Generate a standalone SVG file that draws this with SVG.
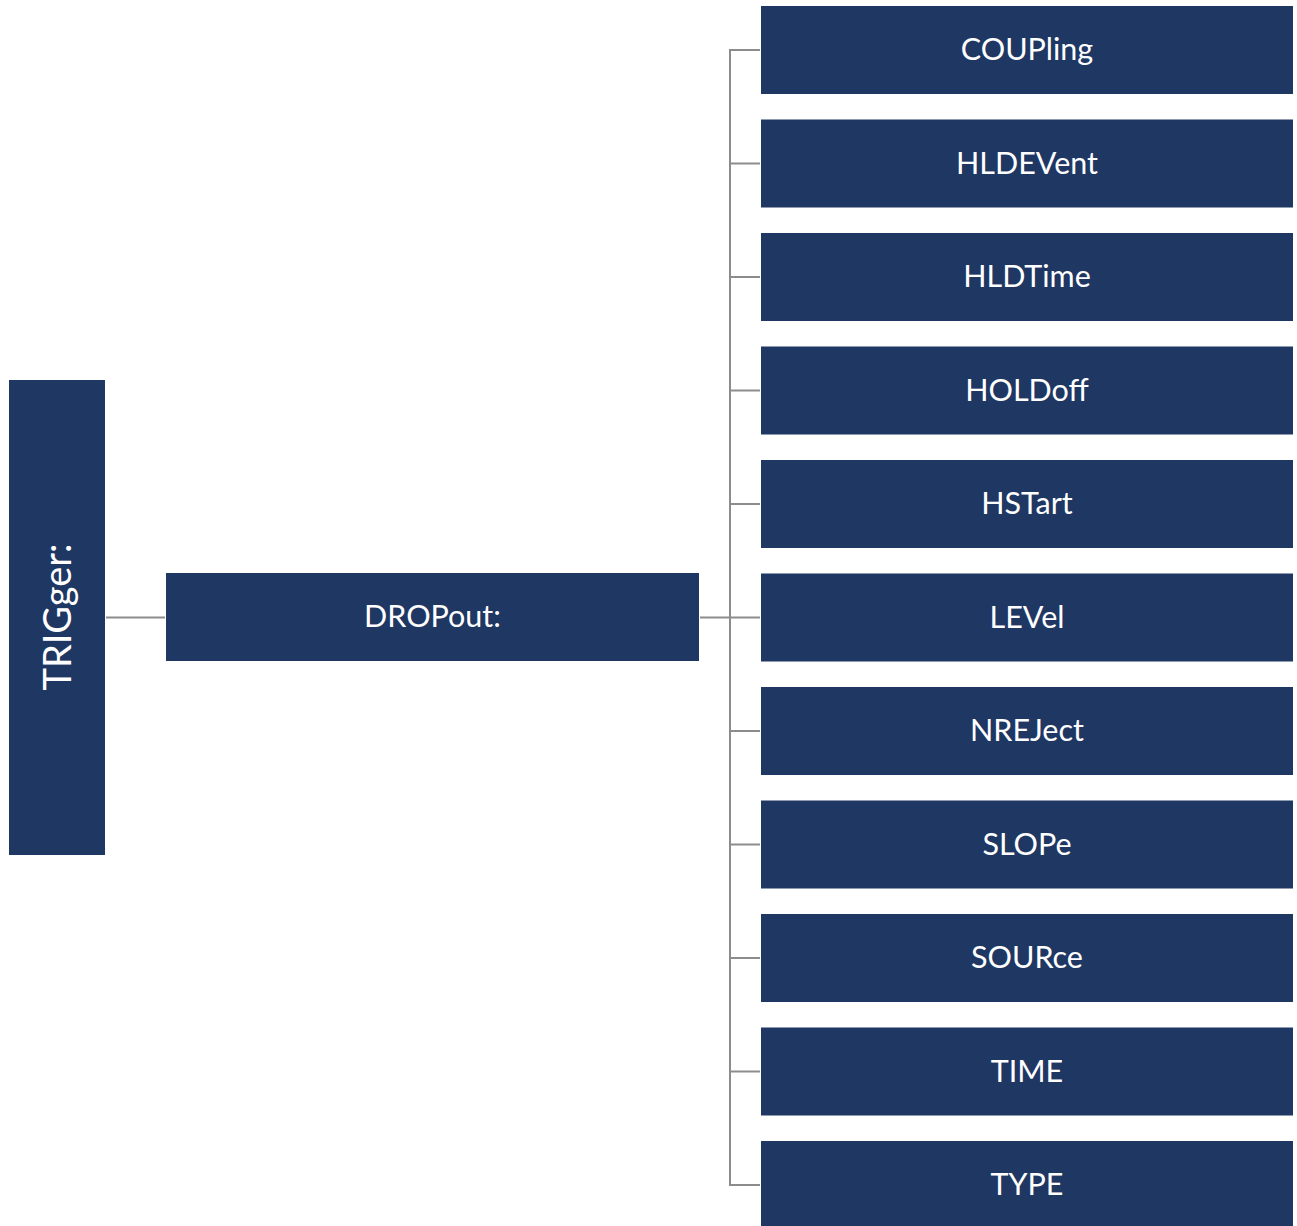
<svg xmlns="http://www.w3.org/2000/svg" width="1297" height="1226" viewBox="0 0 1297 1226">
<style>
.box{fill:#1f3763;}
.lbl{fill:#ffffff;font-family:Lato,"Open Sans","Liberation Sans",sans-serif;font-size:30.5px;text-anchor:middle;dominant-baseline:central;}
.big{font-size:38px;}
.conn{stroke:#8c8c8c;stroke-width:2;fill:none;}
</style>
<rect width="1297" height="1226" fill="#ffffff"/>
<g id="connectors">
<line class="conn" x1="106" y1="617.5" x2="165" y2="617.5"/>
<line class="conn" x1="700" y1="617.5" x2="760" y2="617.5"/>
<path class="conn" d="M760,50 H730 V1185 H760"/>
<line class="conn" x1="730" y1="163.5" x2="760" y2="163.5"/>
<line class="conn" x1="730" y1="277" x2="760" y2="277"/>
<line class="conn" x1="730" y1="390.5" x2="760" y2="390.5"/>
<line class="conn" x1="730" y1="504" x2="760" y2="504"/>
<line class="conn" x1="730" y1="731" x2="760" y2="731"/>
<line class="conn" x1="730" y1="844.5" x2="760" y2="844.5"/>
<line class="conn" x1="730" y1="958" x2="760" y2="958"/>
<line class="conn" x1="730" y1="1071.5" x2="760" y2="1071.5"/>
</g>
<g id="trigger"><rect class="box" x="9" y="380" width="96" height="475"/><text class="lbl big" transform="translate(56,617) rotate(-90)" x="0" y="0">TRIGger:</text></g>
<g id="dropout"><rect class="box" x="166" y="573" width="533" height="88"/><text class="lbl" x="432.5" y="615">DROPout:</text></g>
<g id="coupling"><rect class="box" x="761" y="6" width="532" height="88"/><text class="lbl" x="1027" y="48">COUPling</text></g>
<g id="hldevent"><rect class="box" x="761" y="119.5" width="532" height="88"/><text class="lbl" x="1027" y="161.5">HLDEVent</text></g>
<g id="hldtime"><rect class="box" x="761" y="233" width="532" height="88"/><text class="lbl" x="1027" y="275">HLDTime</text></g>
<g id="holdoff"><rect class="box" x="761" y="346.5" width="532" height="88"/><text class="lbl" x="1027" y="388.5">HOLDoff</text></g>
<g id="hstart"><rect class="box" x="761" y="460" width="532" height="88"/><text class="lbl" x="1027" y="502">HSTart</text></g>
<g id="level"><rect class="box" x="761" y="573.5" width="532" height="88"/><text class="lbl" x="1027" y="615.5">LEVel</text></g>
<g id="nreject"><rect class="box" x="761" y="687" width="532" height="88"/><text class="lbl" x="1027" y="729">NREJect</text></g>
<g id="slope"><rect class="box" x="761" y="800.5" width="532" height="88"/><text class="lbl" x="1027" y="842.5">SLOPe</text></g>
<g id="source"><rect class="box" x="761" y="914" width="532" height="88"/><text class="lbl" x="1027" y="956">SOURce</text></g>
<g id="time"><rect class="box" x="761" y="1027.5" width="532" height="88"/><text class="lbl" x="1027" y="1069.5">TIME</text></g>
<g id="type"><rect class="box" x="761" y="1141" width="532" height="88"/><text class="lbl" x="1027" y="1183">TYPE</text></g>
</svg>
